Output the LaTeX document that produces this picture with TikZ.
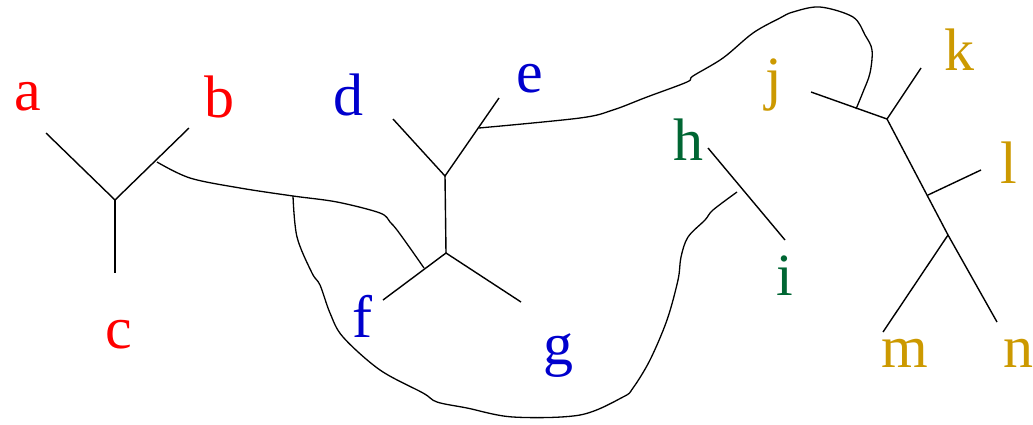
\documentclass[tikz,border=0pt]{standalone}
\usepackage{fontspec}
\setmainfont{Liberation Serif}
\definecolor{cred}{RGB}{255,0,0}
\definecolor{cblue}{RGB}{0,0,205}
\definecolor{cgreen}{RGB}{0,102,51}
\definecolor{cgold}{RGB}{204,153,0}
\begin{document}
\begin{tikzpicture}[x=1pt,y=-1pt,
  lbl/.style={anchor=base,inner sep=0pt,font=\fontsize{60}{60}\selectfont},
  arm/.style={line width=1.4pt},
  wig/.style={line width=1.3pt}]
\useasboundingbox (0,0) rectangle (1033,424);
% labels
\node[lbl,text=cred] (a) at (28,110) {a};
\node[lbl,text=cred] (b) at (219,117) {b};
\node[lbl,text=cred] (c) at (119,348) {c};
\node[lbl,text=cblue] (d) at (348,115) {d};
\node[lbl,text=cblue] (e) at (530,92) {e};
\node[lbl,text=cblue] (f) at (362,337) {f};
\node[lbl,text=cblue] (g) at (558,364) {g};
\node[lbl,text=cgreen] (h) at (688,160) {h};
\node[lbl,text=cgreen] (i) at (785,295) {i};
\node[lbl,text=cgold] (j) at (774,98) {j};
\node[lbl,text=cgold] (k) at (959,70) {k};
\node[lbl,text=cgold] (l) at (1009,183) {l};
\node[lbl,text=cgold] (m) at (905,367) {m};
\node[lbl,text=cgold] (n) at (1018,367) {n};
% tree 1
\coordinate (abc) at (115,200);
\coordinate (ae) at (46,133);
\coordinate (be) at (189,128);
\coordinate (ce) at (115,273);
\draw[arm] (ae) -- (abc) -- (be);
\draw[arm] (abc) -- (ce);
% tree 2
\coordinate (de) at (445,176);
\coordinate (fg) at (446,253);
\coordinate (dend) at (393,119);
\coordinate (eend) at (499,98);
\coordinate (fend) at (383,300);
\coordinate (gend) at (521,302);
\draw[arm] (dend) -- (de) -- (eend);
\draw[arm] (de) -- (fg);
\draw[arm] (fend) -- (fg) -- (gend);
% tree 3
\coordinate (hend) at (708,148);
\coordinate (iend) at (785,240);
\draw[arm] (hend) -- (iend);
% tree 4
\coordinate (jk) at (887,119);
\coordinate (jend) at (811,92);
\coordinate (kend) at (921,68);
\coordinate (lj) at (928,195);
\coordinate (lend) at (981,170);
\coordinate (mn) at (948,235);
\coordinate (mend) at (883,332);
\coordinate (nend) at (997,322);
\draw[arm] (jend) -- (jk) -- (kend);
\draw[arm] (jk) -- (mn) -- (nend);
\draw[arm] (lj) -- (lend);
\draw[arm] (mn) -- (mend);
% wiggly connectors
\coordinate (w1) at (157,162);
\coordinate (w2) at (293,196);
\coordinate (w3) at (424,268);
\coordinate (w4) at (737,192);
\coordinate (w5) at (479,128);
\coordinate (w6) at (856,109);
\draw[wig] plot[smooth,tension=0.55] coordinates {(157,162) (190,178) (240,188) (293,196) (337,202) (380,213) (390,222) (397,230) (410,248) (424,268)};
\draw[wig] plot[smooth,tension=0.55] coordinates {(293,196) (297,237) (312,273) (320,285) (330,313) (343,337) (380,370) (423,393) (437,402) (467,408) (513,417) (580,415) (623,397) (633,388) (650,360) (667,320) (678,280) (681,257) (688,237) (705,220) (713,210) (737,192)};
\draw[wig] plot[smooth,tension=0.55] coordinates {(479,128) (580,118) (613,110) (647,97) (687,82) (693,76) (723,58) (753,33) (780,18) (793,12) (820,7) (853,17) (865,35) (872,50) (870,73) (863,92) (856,109)};
\end{tikzpicture}
\end{document}
